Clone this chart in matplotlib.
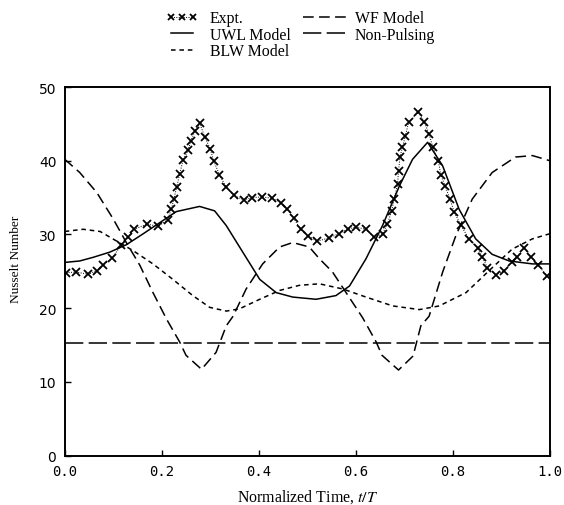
import matplotlib
matplotlib.use("Agg")
import matplotlib.pyplot as plt

plt.rcParams["mathtext.fontset"] = "stix"

# experimental data (t/T, Nu)
expt_t = [0.003, 0.023, 0.049, 0.066, 0.079, 0.098, 0.117, 0.131, 0.143, 0.170,
          0.193, 0.212, 0.220, 0.225, 0.231, 0.237, 0.244, 0.254, 0.260, 0.269,
          0.278, 0.289, 0.300, 0.307, 0.319, 0.332, 0.348, 0.369, 0.387, 0.407,
          0.428, 0.446, 0.459, 0.472, 0.486, 0.501, 0.521, 0.544, 0.565, 0.583,
          0.600, 0.620, 0.638, 0.655, 0.665, 0.674, 0.679, 0.686, 0.688, 0.691,
          0.696, 0.702, 0.709, 0.729, 0.741, 0.751, 0.759, 0.770, 0.775, 0.784,
          0.794, 0.803, 0.816, 0.833, 0.851, 0.861, 0.871, 0.888, 0.905, 0.922,
          0.933, 0.946, 0.962, 0.976, 0.994]
expt_nu = [24.8, 24.9, 24.6, 25.1, 25.8, 26.8, 28.6, 29.6, 30.7, 31.4,
           31.1, 32.0, 33.5, 34.8, 36.5, 38.2, 40.1, 41.4, 42.7, 44.1,
           45.1, 43.2, 41.6, 40.0, 38.1, 36.5, 35.3, 34.7, 35.0, 35.1,
           34.9, 34.3, 33.4, 32.2, 30.7, 29.8, 29.1, 29.5, 30.1, 30.7,
           31.0, 30.7, 29.6, 30.1, 31.4, 33.2, 34.8, 36.8, 38.6, 40.5,
           41.8, 43.4, 45.2, 46.6, 45.3, 43.6, 41.8, 40.0, 38.1, 36.6,
           34.8, 33.0, 31.3, 29.4, 28.1, 26.9, 25.5, 24.5, 25.1, 26.2,
           27.0, 28.2, 26.9, 25.8, 24.4]

# UWL model (solid)
uwl_t = [0.0, 0.031, 0.059, 0.093, 0.127, 0.162, 0.196, 0.230, 0.278, 0.309,
         0.333, 0.367, 0.402, 0.436, 0.470, 0.518, 0.559, 0.587, 0.621, 0.655,
         0.690, 0.717, 0.748, 0.779, 0.813, 0.847, 0.881, 0.916, 0.964, 1.0]
uwl_nu = [26.2, 26.4, 26.9, 27.6, 28.6, 30.1, 31.6, 33.1, 33.8, 33.2,
          31.2, 27.6, 23.9, 22.1, 21.5, 21.2, 21.7, 23.0, 26.7, 31.2,
          36.6, 40.2, 42.5, 39.3, 33.4, 29.4, 27.3, 26.4, 26.0, 26.0]

# BLW model (short dashes)
blw_t = [0.0, 0.038, 0.073, 0.107, 0.141, 0.182, 0.223, 0.264, 0.299, 0.333,
         0.360, 0.402, 0.443, 0.484, 0.525, 0.573, 0.621, 0.676, 0.731, 0.772,
         0.827, 0.875, 0.922, 0.964, 1.0]
blw_nu = [30.4, 30.7, 30.4, 29.1, 27.8, 26.0, 23.9, 21.7, 20.1, 19.6,
          19.9, 21.2, 22.4, 23.1, 23.3, 22.6, 21.5, 20.3, 19.8, 20.3,
          22.1, 25.1, 28.0, 29.4, 30.1]

# WF model (dashes)
wf_t = [0.0, 0.031, 0.066, 0.100, 0.127, 0.155, 0.182, 0.210, 0.237, 0.250,
        0.282, 0.312, 0.333, 0.347, 0.374, 0.408, 0.443, 0.470, 0.504, 0.525,
        0.552, 0.580, 0.614, 0.642, 0.654, 0.688, 0.718, 0.734, 0.751, 0.779,
        0.806, 0.840, 0.881, 0.929, 0.964, 1.0]
wf_nu = [40.2, 38.4, 35.7, 32.1, 28.9, 25.8, 22.1, 18.5, 15.4, 13.6,
         11.7, 14.0, 17.6, 18.9, 22.6, 26.0, 28.3, 28.9, 28.3, 26.7,
         24.9, 22.1, 18.7, 15.4, 13.6, 11.6, 13.5, 17.6, 18.9, 24.9,
         29.8, 34.8, 38.4, 40.5, 40.7, 40.0]

# non-pulsing (constant)
np_t = [0.0, 1.0]
np_nu = [15.3, 15.3]

xticks = [0.0, 0.2, 0.4, 0.6, 0.8, 1.0]
xtick_labels = ["0.0", "0.2", "0.4", "0.6", "0.8", "1.0"]
yticks = [0, 10, 20, 30, 40, 50]

serif = ["Liberation Serif", "DejaVu Serif"]

fig = plt.figure(figsize=(5.64, 5.06), dpi=100)
ax = fig.add_axes([0.1147, 0.0978, 0.8603, 0.7282])

h_expt, = ax.plot(expt_t, expt_nu, color="black", ls=(0, (1, 1.5)), lw=0.7,
                  marker="x", ms=5.5, mew=1.3, label="Expt.")
h_uwl, = ax.plot(uwl_t, uwl_nu, color="black", lw=1.1, label="UWL Model")
h_blw, = ax.plot(blw_t, blw_nu, color="black", lw=1.1, ls=(0, (3, 2.5)),
                 label="BLW Model")
h_wf, = ax.plot(wf_t, wf_nu, color="black", lw=1.1, ls=(0, (7, 3.5)),
                label="WF Model")
h_np, = ax.plot(np_t, np_nu, color="black", lw=1.1, ls=(0, (12, 3.5)),
                label="Non-Pulsing")

ax.set_xlim(0, 1)
ax.set_ylim(0, 50)
ax.set_xticks(xticks)
ax.set_xticklabels(xtick_labels, family="DejaVu Sans Mono", fontsize=10)
ax.set_yticks(yticks)
for lab in ax.get_yticklabels():
    lab.set_family("DejaVu Sans")
    lab.set_fontsize(10)
ax.tick_params(direction="in", length=4, width=1.0, pad=6)
for sp in ax.spines.values():
    sp.set_linewidth(1.4)

ax.set_xlabel("Normalized Time, $t/T$", family=serif, fontsize=11.4,
              labelpad=7)
ax.set_ylabel("Nusselt Number", family=serif, fontsize=9.6)
ax.yaxis.set_label_coords(-0.088, 0.535)

fig.legend(handles=[h_expt, h_uwl, h_blw], loc="upper left",
           bbox_to_anchor=(0.275, 1.0), frameon=False, handlelength=2.0,
           handletextpad=0.75, labelspacing=0.04, borderpad=0.2,
           numpoints=3, markerscale=0.85,
           prop={"family": serif, "size": 11.4})
fig.legend(handles=[h_wf, h_np], loc="upper left",
           bbox_to_anchor=(0.517, 1.0), frameon=False, handlelength=3.0,
           handletextpad=0.3, labelspacing=0.04, borderpad=0.2,
           prop={"family": serif, "size": 11.4})

fig.savefig("out.png", dpi=100)
